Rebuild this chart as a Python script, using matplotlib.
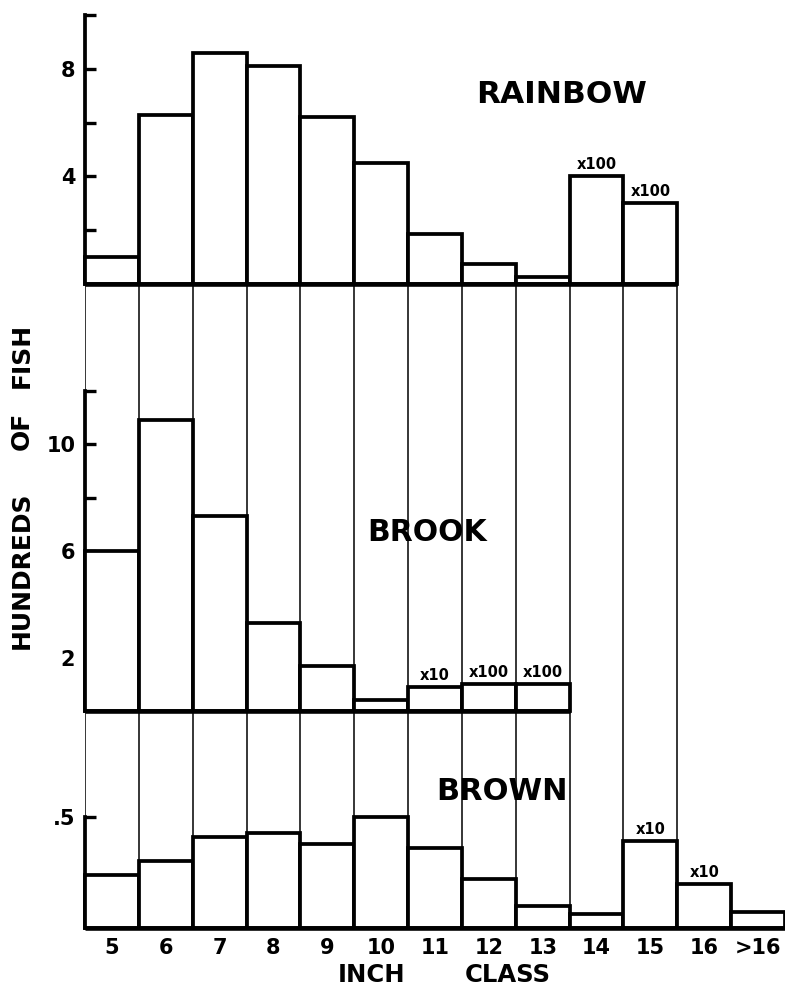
import matplotlib
matplotlib.use("Agg")
import matplotlib.pyplot as plt
import numpy as np

plt.rcParams['font.family'] = ['DejaVu Sans']
plt.rcParams['font.weight'] = 'bold'

classes = ['5', '6', '7', '8', '9', '10', '11', '12', '13', '14', '15', '16', '>16']

rainbow = [1.0, 6.3, 8.6, 8.1, 6.2, 4.5, 1.85, 0.75, 0.27, 4.0, 3.0]
rainbow_marks = {9: 'x100', 10: 'x100'}

brook = [6.0, 10.9, 7.3, 3.3, 1.7, 0.4, 0.9, 1.0, 1.0]
brook_marks = {6: 'x10', 7: 'x100', 8: 'x100'}

brown = [0.24, 0.30, 0.41, 0.43, 0.38, 0.50, 0.36, 0.22, 0.10, 0.063, 0.39, 0.20, 0.07]
brown_marks = {10: 'x10', 11: 'x10'}

rainbow_ticks = [2, 4, 6, 8, 10]
rainbow_labels = ['', '4', '', '8', '']
brook_ticks = [2, 4, 6, 8, 10, 12]
brook_labels = ['2', '', '6', '', '10', '']
brown_ticks = [0.5]
brown_labels = ['.5']

W, H = 785, 988
fig = plt.figure(figsize=(W / 100, H / 100), dpi=100)

def fx(px):
    return px / W

def fy(py):
    return 1 - py / H

left = fx(85)
right = 1.0
ax_top = fig.add_axes([left, fy(284), right - left, fy(15) - fy(284)])
ax_mid = fig.add_axes([left, fy(711), right - left, fy(284) - fy(711)])
ax_bot = fig.add_axes([left, fy(928), right - left, fy(711) - fy(928)])

LW = 2.7
THIN = 1.1
nbins = len(classes)

def style(ax, ylim, ticks, labels, spine_top):
    ax.set_xlim(0, nbins)
    ax.set_ylim(*ylim)
    for s in ['top', 'right', 'bottom']:
        ax.spines[s].set_visible(False)
    ax.spines['left'].set_linewidth(LW)
    ax.spines['left'].set_bounds(0, spine_top)
    ax.set_yticks(ticks)
    ax.set_yticklabels(labels, fontsize=15, fontweight='bold')
    ax.tick_params(axis='y', direction='in', length=8, width=2.4, pad=7)
    ax.set_xticks([])
    ax.patch.set_visible(False)

style(ax_top, (0, 10), rainbow_ticks, rainbow_labels, 10)
style(ax_mid, (0, 16), brook_ticks, brook_labels, 12)
style(ax_bot, (0, 217 / 222), brown_ticks, brown_labels, 0.5)

# thin vertical class-boundary lines
for ax in (ax_mid, ax_bot):
    for e in range(0, 12):
        ax.axvline(e, color='black', lw=THIN, zorder=1)

def draw(ax, vals, marks, base_end, fs_off=5):
    x = np.arange(len(vals))
    ax.bar(x, vals, width=1, align='edge', facecolor='white', edgecolor='black',
           linewidth=LW, zorder=3, clip_on=False)
    ax.plot([0, base_end], [0, 0], color='black', lw=LW + 0.6, zorder=4,
            solid_capstyle='butt', clip_on=False)
    for i, t in marks.items():
        ax.annotate(t, (i + 0.5, vals[i]), xytext=(0, fs_off), textcoords='offset points',
                    ha='center', va='baseline', fontsize=10.5, fontweight='bold', zorder=5)

draw(ax_top, rainbow, rainbow_marks, len(rainbow))
draw(ax_mid, brook, brook_marks, len(brook))
draw(ax_bot, brown, brown_marks, nbins)

ax_bot.set_xticks(np.arange(nbins) + 0.5)
ax_bot.set_xticklabels(classes, fontsize=15, fontweight='bold')
ax_bot.tick_params(axis='x', length=0, pad=7)

ax_top.text(8.85, 7.03, 'RAINBOW', ha='center', va='center', fontsize=22.5, fontweight='bold')
ax_mid.text(6.36, 6.67, 'BROOK', ha='center', va='center', fontsize=21.5, fontweight='bold', zorder=6)
ax_bot.text(7.74, 0.617, 'BROWN', ha='center', va='center', fontsize=22, fontweight='bold', zorder=6)

# axis titles (word-spaced as in the original)
fig.text(fx(372), fy(975), 'INCH', ha='center', va='center', fontsize=17.5, fontweight='bold')
fig.text(fx(508), fy(975), 'CLASS', ha='center', va='center', fontsize=17.5, fontweight='bold')
fig.text(fx(22), fy(570), 'HUNDREDS', ha='center', va='center', rotation=90, fontsize=18, fontweight='bold')
fig.text(fx(22), fy(431), 'OF', ha='center', va='center', rotation=90, fontsize=18, fontweight='bold')
fig.text(fx(22), fy(355), 'FISH', ha='center', va='center', rotation=90, fontsize=18, fontweight='bold')

fig.savefig('out.png', dpi=100, facecolor='white')
